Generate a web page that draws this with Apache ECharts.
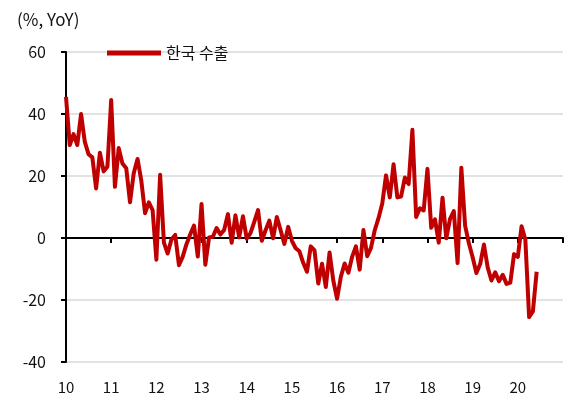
<!DOCTYPE html>
<html>
<head>
<meta charset="utf-8">
<script src="https://cdn.jsdelivr.net/npm/echarts@6/dist/echarts.min.js"></script>
<style>
  html, body { margin: 0; padding: 0; background: #fff; }
  #chart { width: 571px; height: 402px; }
</style>
</head>
<body>
<div id="chart"></div>
<script>
// 한국 수출 증가율 (월별, 전년동월비), 2010.01 ~ 2020.06
const yearLabels = ['10', '11', '12', '13', '14', '15', '16', '17', '18', '19', '20']
const seriesName = '한국 수출'
const exportYoY = [
  45.5, 30, 33.5, 30, 40, 31, 27, 26, 16, 27.5, 21.5, 23,        // 2010
  44.5, 16.5, 29, 24, 22.5, 11.5, 21, 25.5, 18.5, 8, 11.5, 9,    // 2011
  -7, 20.4, -1.5, -5, -0.5, 1, -8.8, -6, -2, 1.2, 4, -6,         // 2012
  11, -8.6, 0.2, 0.4, 3.2, 1.1, 2.6, 7.7, -1.5, 7.3, 0.2, 7,     // 2013
  -0.2, 1.6, 5.2, 9, -0.9, 2.5, 5.6, -0.1, 6.8, 2.5, -1.9, 3.6,  // 2014
  -0.9, -3.3, -4.3, -8, -10.9, -2.7, -4, -14.7, -8.3, -15.8, -4.7, -13.8, // 2015
  -19.6, -12.5, -8.2, -11.2, -6, -2.7, -10.2, 2.6, -5.9, -3.2, 2.5, 6.4, // 2016
  11.1, 20.2, 13.1, 23.8, 13.1, 13.4, 19.5, 17.4, 34.9, 6.8, 9.6, 8.9,   // 2017
  22.3, 3.3, 6, -1.5, 13, -0.1, 6.2, 8.7, -8.1, 22.7, 4, -1.7,           // 2018
  -6.2, -11.3, -8.4, -2.1, -9.5, -13.7, -11.1, -13.9, -11.9, -14.8, -14.4, -5.2, // 2019
  -6.1, 3.8, -0.5, -25.5, -23.7, -10.9                                    // 2020
]

// 2010.01 ~ 2021.01 월 카테고리 (축 끝은 2021.01)
const months = []
for (let y = 2010; y <= 2020; y++) {
  for (let m = 1; m <= 12; m++) months.push(y + '-' + m)
}
months.push('2021-1')

const font = '"Noto Sans CJK KR", "Noto Sans", sans-serif'
const isYearStart = (idx) => idx % 12 === 0

const chart = echarts.init(document.getElementById('chart'))
chart.setOption({
  animation: false,
  backgroundColor: '#fff',
  title: {
    text: '(%, YoY)',
    left: 12,
    top: 6,
    textStyle: { fontFamily: font, fontSize: 17, fontWeight: 'normal', color: '#111' }
  },
  legend: {
    data: [seriesName],
    left: 102,
    top: 40,
    icon: 'rect',
    itemWidth: 54,
    itemHeight: 5,
    itemGap: 6,
    textStyle: { fontFamily: font, fontSize: 16, color: '#111' }
  },
  grid: { left: 66, right: 8, top: 52, bottom: 40 },
  xAxis: [
    {
      type: 'category',
      data: months,
      boundaryGap: false,
      axisLine: { onZero: true, lineStyle: { color: '#000', width: 2 } },
      axisTick: { interval: isYearStart, length: 5, lineStyle: { color: '#000', width: 2 } },
      axisLabel: { show: false },
      splitLine: { show: false }
    },
    {
      type: 'category',
      data: months,
      boundaryGap: false,
      position: 'bottom',
      axisLine: { show: false, onZero: false },
      axisTick: { show: false },
      axisLabel: {
        interval: isYearStart,
        margin: 18,
        fontFamily: font,
        fontSize: 15,
        color: '#111',
        formatter: (v, idx) => yearLabels[idx / 12] || ''
      }
    }
  ],
  yAxis: {
    type: 'value',
    min: -40,
    max: 60,
    interval: 20,
    axisLine: { show: true, lineStyle: { color: '#000', width: 2 } },
    axisTick: { show: true, length: 5, lineStyle: { color: '#000', width: 2 } },
    axisLabel: { margin: 20, fontFamily: font, fontSize: 16, color: '#111' },
    splitLine: { lineStyle: { color: '#d9d9d9', width: 1.5 } }
  },
  series: [{
    name: seriesName,
    type: 'line',
    data: exportYoY,
    symbol: 'none',
    lineStyle: { color: '#c00000', width: 4, join: 'round' },
    itemStyle: { color: '#c00000' }
  }]
})
</script>
</body>
</html>
